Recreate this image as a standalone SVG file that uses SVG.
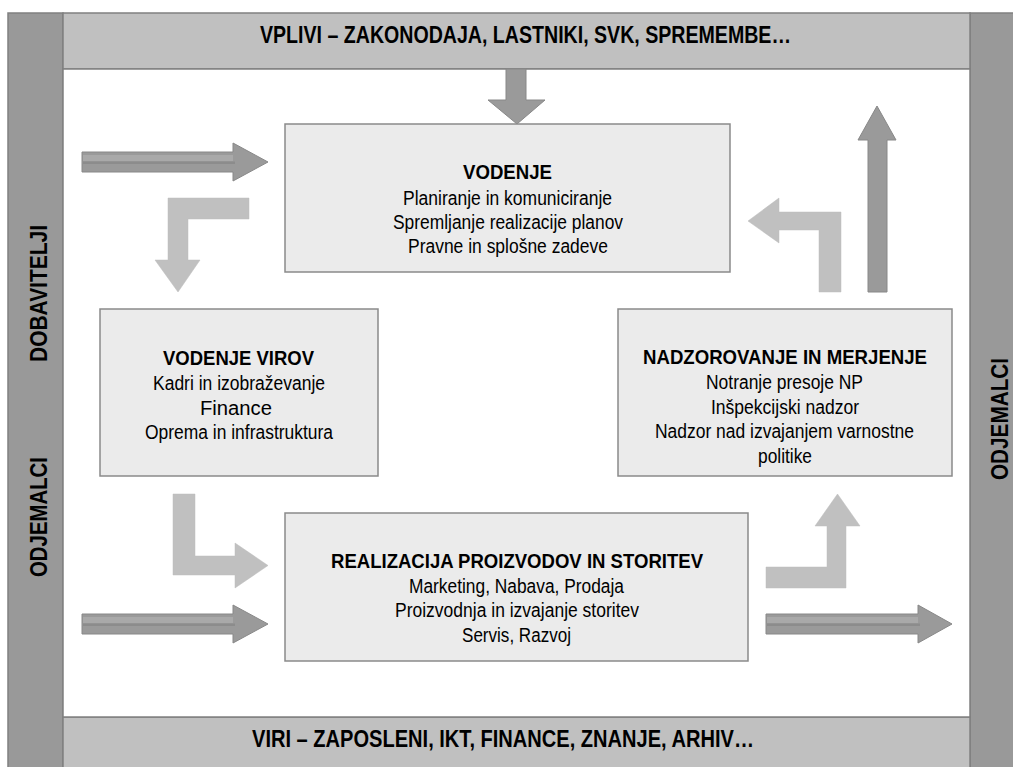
<svg xmlns="http://www.w3.org/2000/svg" width="1013" height="767" viewBox="0 0 1013 767">
<style>
text{font-family:"Liberation Sans Narrow","Arial Narrow","Liberation Sans",Arial,sans-serif;fill:#000;text-anchor:middle}
.bar{font-size:24px;font-weight:bold}
.hd{font-size:20px;font-weight:bold}
.bd{font-size:20px}
.box{fill:#ebebeb;stroke:#8a8a8a;stroke-width:1.5}
.side{fill:#999999;stroke:#808080;stroke-width:1.5}
.band{fill:#c0c0c0;stroke:#808080;stroke-width:1.5}
.dark{fill:#9a9a9a;stroke:#888888;stroke-width:1}
.light{fill:#c0c0c0;stroke:#bcbcbc;stroke-width:0.5}
.stripe{fill:#a9a9a9}
.mid{fill:#8c8c8c}
</style>
<rect width="1013" height="767" fill="#ffffff"/>
<g id="frame">
<rect class="side" x="8" y="13" width="55" height="780"/>
<rect class="side" x="970" y="13" width="60" height="780"/>
<rect class="band" x="63" y="13" width="907" height="56"/>
<rect class="band" x="63" y="717" width="907" height="70"/>
<rect x="63" y="69" width="907" height="648" fill="#ffffff" stroke="#808080" stroke-width="1.5"/>
</g>
<g id="label-top"><text class="bar" x="525.5" y="43" textLength="531" lengthAdjust="spacingAndGlyphs">VPLIVI – ZAKONODAJA, LASTNIKI, SVK, SPREMEMBE…</text></g>
<g id="label-bottom"><text class="bar" x="503" y="747" textLength="502" lengthAdjust="spacingAndGlyphs">VIRI – ZAPOSLENI, IKT, FINANCE, ZNANJE, ARHIV…</text></g>
<g id="label-dobavitelji"><text class="bar" transform="translate(47,293.5) rotate(-90)" x="0" y="0" textLength="137" lengthAdjust="spacingAndGlyphs">DOBAVITELJI</text></g>
<g id="label-odjemalci-left"><text class="bar" transform="translate(47,517) rotate(-90)" x="0" y="0" textLength="120" lengthAdjust="spacingAndGlyphs">ODJEMALCI</text></g>
<g id="label-odjemalci-right"><text class="bar" transform="translate(1008,419) rotate(-90)" x="0" y="0" textLength="122" lengthAdjust="spacingAndGlyphs">ODJEMALCI</text></g>

<g id="connectors">
<polygon class="dark" points="506,69 526,69 526,100 545,100 517,124 488,100 506,100"/>
<polygon class="dark" points="868,292 887,292 887,140 896,140 877,106 858,140 868,140"/>
<g id="striped-in-top">
<polygon class="dark" points="82,152 233,152 233,143 268,162 233,181 233,172 82,172"/>
<rect class="stripe" x="83" y="155" width="150" height="6"/>
<rect class="mid" x="83" y="161.5" width="152" height="2.5"/>
</g>
<g id="striped-in-bottom">
<polygon class="dark" points="82,614 233,614 233,605 268,624 233,643 233,634 82,634"/>
<rect class="stripe" x="83" y="617" width="150" height="6"/>
<rect class="mid" x="83" y="623.5" width="152" height="2.5"/>
</g>
<g id="striped-out">
<polygon class="dark" points="766,614 918,614 918,605 952,624 918,643 918,634 766,634"/>
<rect class="stripe" x="767" y="617" width="151" height="6"/>
<rect class="mid" x="767" y="623.5" width="153" height="2.5"/>
</g>
<polygon class="light" points="249,198 249,219 188,219 188,260 200,260 178,292 155,260 168,260 168,198"/>
<polygon class="light" points="841,212 841,292 819,292 819,230 779,230 779,243 748,221 779,198 779,212"/>
<polygon class="light" points="173,494 195,494 195,556 235,556 235,543 268,565.5 235,588 235,575 173,575"/>
<polygon class="light" points="766,567 827,567 827,526 815,526 837.5,494 860,526 846,526 846,588 766,588"/>
</g>

<g id="node-vodenje">
<rect class="box" x="285" y="124" width="445" height="148"/>
<text class="hd" x="507.5" y="179" textLength="89" lengthAdjust="spacingAndGlyphs">VODENJE</text>
<text class="bd" x="507.5" y="205" textLength="209" lengthAdjust="spacingAndGlyphs">Planiranje in komuniciranje</text>
<text class="bd" x="508" y="229" textLength="230" lengthAdjust="spacingAndGlyphs">Spremljanje realizacije planov</text>
<text class="bd" x="508" y="253" textLength="200" lengthAdjust="spacingAndGlyphs">Pravne in splošne zadeve</text>
</g>
<g id="node-vodenje-virov">
<rect class="box" x="100" y="309" width="278" height="167"/>
<text class="hd" x="238.5" y="365" textLength="151" lengthAdjust="spacingAndGlyphs">VODENJE VIROV</text>
<text class="bd" x="239" y="390" textLength="172" lengthAdjust="spacingAndGlyphs">Kadri in izobraževanje</text>
<text class="bd" x="236" y="415" textLength="72" lengthAdjust="spacingAndGlyphs">Finance</text>
<text class="bd" x="239" y="439" textLength="188" lengthAdjust="spacingAndGlyphs">Oprema in infrastruktura</text>
</g>
<g id="node-nadzorovanje">
<rect class="box" x="618" y="309" width="334" height="167"/>
<text class="hd" x="785" y="364" textLength="284" lengthAdjust="spacingAndGlyphs">NADZOROVANJE IN MERJENJE</text>
<text class="bd" x="784.5" y="389" textLength="157" lengthAdjust="spacingAndGlyphs">Notranje presoje NP</text>
<text class="bd" x="785" y="414" textLength="148" lengthAdjust="spacingAndGlyphs">Inšpekcijski nadzor</text>
<text class="bd" x="784.5" y="438" textLength="259" lengthAdjust="spacingAndGlyphs">Nadzor nad izvajanjem varnostne</text>
<text class="bd" x="785" y="463" textLength="54" lengthAdjust="spacingAndGlyphs">politike</text>
</g>
<g id="node-realizacija">
<rect class="box" x="285" y="513" width="463" height="148"/>
<text class="hd" x="517" y="568" textLength="372" lengthAdjust="spacingAndGlyphs">REALIZACIJA PROIZVODOV IN STORITEV</text>
<text class="bd" x="516.5" y="593" textLength="215" lengthAdjust="spacingAndGlyphs">Marketing, Nabava, Prodaja</text>
<text class="bd" x="517" y="617" textLength="244" lengthAdjust="spacingAndGlyphs">Proizvodnja in izvajanje storitev</text>
<text class="bd" x="516.5" y="642" textLength="109" lengthAdjust="spacingAndGlyphs">Servis, Razvoj</text>
</g>
</svg>
